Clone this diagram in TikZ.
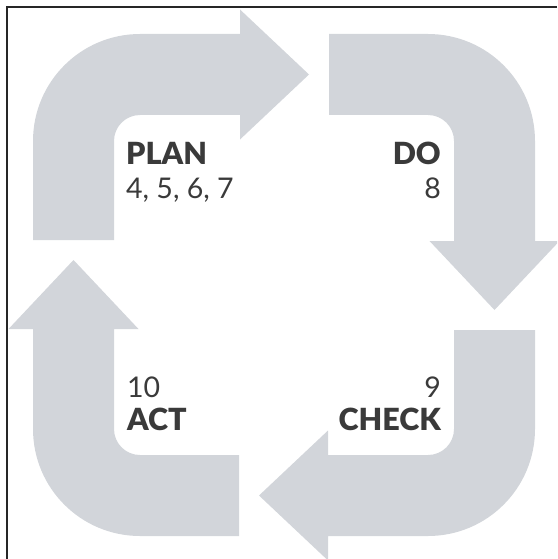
\documentclass[tikz,border=0pt]{standalone}
\usepackage{fontspec}
\setmainfont{Lato}[BoldFont={Lato Black}]
\usepackage{tikz}
\usetikzlibrary{positioning}

\definecolor{cycgray}{HTML}{D2D5DA}
\definecolor{labelink}{HTML}{3A3A3A}

% one bent arrow, drawn around the centre of the cycle
\newcommand{\cyclearrow}{%
  (-251,-45) -- (-251,-144) arc[start angle=180, end angle=270, radius=107]
  -- (-44,-251) -- (-44,-275.5) -- (25,-210.5) -- (-44,-145.5) -- (-44,-170)
  -- (-144,-170) arc[start angle=270, end angle=180, radius=26]
  -- (-170,-45) -- cycle}

\begin{document}
\begin{tikzpicture}[
  x=1pt, y=-1pt,
  stage/.style={font=\fontsize{30.5}{34}\selectfont\bfseries, text=labelink, inner sep=0pt},
  refs/.style={font=\fontsize{28.5}{34}\selectfont, text=labelink, inner sep=0pt},
  frameline/.style={line width=1.3pt, draw=black!85}
]
\useasboundingbox (0,0) rectangle (557,559);
\clip (0,0) rectangle (557,559);

% the four arrows of the cycle
\foreach \turn in {0,-90,-180,-270}{
  \fill[cycgray, shift={(284,285)}, rotate=\turn] \cyclearrow;
}

% labels
\node (plan)     [stage, anchor=base west] at (126,164) {PLAN};
\node (planNum)  [refs,  anchor=base west] at (126,198) {4, 5, 6, 7};
\node (do)       [stage, anchor=base east] at (441,164) {DO};
\node (doNum)    [refs,  anchor=base east] at (441,198) {8};
\node (actNum)   [refs,  anchor=base west] at (127,397) {10};
\node (act)      [stage, anchor=base west] at (127,430) {ACT};
\node (checkNum) [refs,  anchor=base east] at (441,397) {9};
\node (check)    [stage, anchor=base east] at (441,430) {CHECK};

% frame, only top and left are visible
\draw[frameline] (557,7) -- (7,7) -- (7,559);
\end{tikzpicture}
\end{document}
